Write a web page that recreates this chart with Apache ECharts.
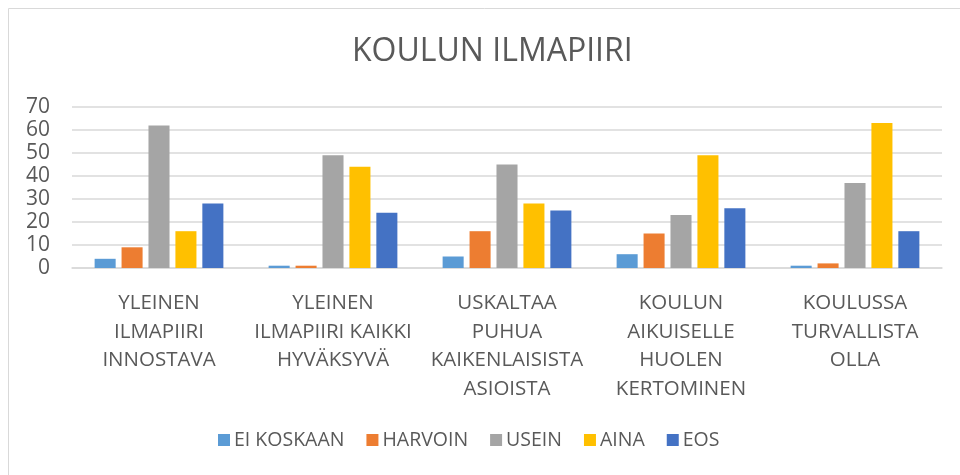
<html lang="fi">
<head>
    <meta charset="UTF-8">
    <title>Koulun ilmapiiri</title>
    <style>
        body { margin: 0; background: #fff; }
        #echart { width: 960px; height: 475px; }
    </style>
</head>
<body>
<div id="echart"></div>
<script src="https://cdn.jsdelivr.net/npm/echarts@6/dist/echarts.min.js"></script>
<script>
    // kategoriat (rivitetty kuten kuvassa)
    const categories = [
        'YLEINEN\nILMAPIIRI\nINNOSTAVA',
        'YLEINEN\nILMAPIIRI KAIKKI\nHYVÄKSYVÄ',
        'USKALTAA\nPUHUA\nKAIKENLAISISTA\nASIOISTA',
        'KOULUN\nAIKUISELLE\nHUOLEN\nKERTOMINEN',
        'KOULUSSA\nTURVALLISTA\nOLLA'
    ]
    const seriesNames = ['EI KOSKAAN', 'HARVOIN', 'USEIN', 'AINA', 'EOS']
    const eiKoskaan = [4, 1, 5, 6, 1]
    const harvoin = [9, 1, 16, 15, 2]
    const usein = [62, 49, 45, 23, 37]
    const aina = [16, 44, 28, 49, 63]
    const eos = [28, 24, 25, 26, 16]
    const yTicks = [0, 10, 20, 30, 40, 50, 60, 70]

    const colors = ['#5B9BD5', '#ED7D31', '#A5A5A5', '#FFC000', '#4472C4']
    const values = [eiKoskaan, harvoin, usein, aina, eos]
    const font = '"Open Sans", sans-serif'
    const textColor = '#595959'

    let echart = echarts.init(document.getElementById('echart'))

    echart.setOption({
        animation: false,
        color: colors,
        title: {
            text: 'KOULUN ILMAPIIRI',
            left: 347,
            top: 31,
            textStyle: { fontFamily: font, fontSize: 32, fontWeight: 'normal', color: textColor }
        },
        graphic: [{
            type: 'rect',
            shape: { x: 8.5, y: 8.5, width: 1000, height: 1000 },
            style: { fill: 'none', stroke: '#d9d9d9', lineWidth: 1 }
        }],
        legend: {
            bottom: 20,
            left: 213,
            itemWidth: 12,
            itemHeight: 12,
            itemGap: 22,
            icon: 'rect',
            textStyle: { fontFamily: font, fontSize: 19.5, color: textColor, padding: [0, 0, 0, -1] },
            data: seriesNames
        },
        grid: { left: 72, right: 18, top: 107, bottom: 207, containLabel: false },
        xAxis: {
            type: 'category',
            data: categories,
            axisTick: { show: false },
            axisLine: { lineStyle: { color: '#d9d9d9', width: 1.5 } },
            axisLabel: {
                interval: 0,
                margin: 21,
                fontFamily: font,
                fontSize: 20.5,
                lineHeight: 28.5,
                color: textColor
            }
        },
        yAxis: {
            type: 'value',
            min: yTicks[0],
            max: yTicks[yTicks.length - 1],
            interval: 10,
            axisLine: { show: false },
            axisTick: { show: false },
            splitLine: { lineStyle: { color: '#d9d9d9', width: 1.5 } },
            axisLabel: { margin: 22, fontFamily: font, fontSize: 21, color: textColor }
        },
        series: seriesNames.map((name, i) => ({
            type: 'bar',
            name: name,
            data: values[i],
            barGap: '28%',
            barCategoryGap: '26%'
        }))
    })
</script>
</body>
</html>
